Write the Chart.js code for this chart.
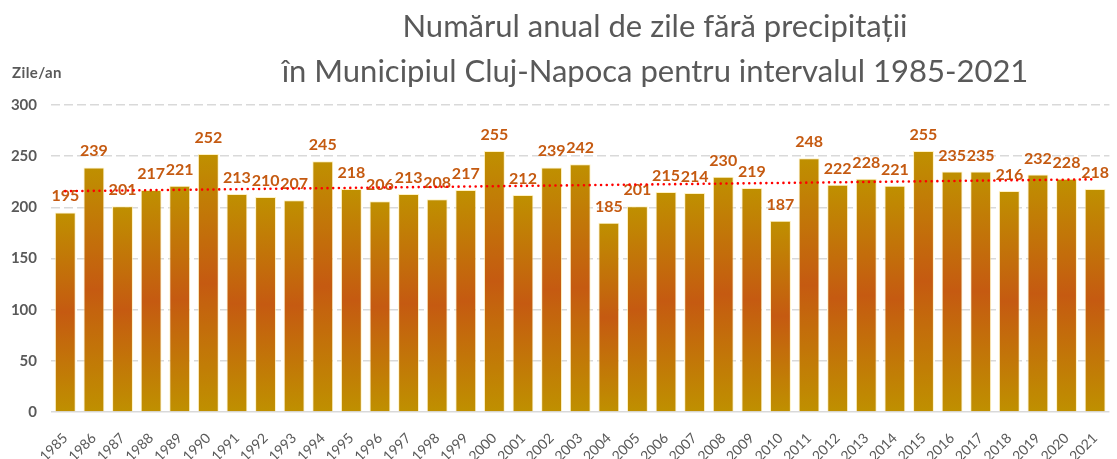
<!DOCTYPE html>
<html>
<head>
<meta charset="utf-8">
<script src="https://cdn.jsdelivr.net/npm/chart.js@4"></script>
<style>
  body { margin: 0; background: #fff; }
  .wrap { position: relative; width: 1117px; height: 459px; font-family: Lato, "Open Sans", sans-serif; }
  .title { position: absolute; left: 0; width: 1310px; text-align: center; color: #595959; font-size: 31px; line-height: 1; white-space: nowrap; }
  .unit { position: absolute; left: 12px; top: 63px; color: #595959; font-size: 15px; font-weight: bold; letter-spacing: 0.4px; }
  canvas { position: absolute; left: 0; top: 0; }
</style>
</head>
<body>
<div class="wrap">
  <canvas id="chart" width="1117" height="459"></canvas>
  <div class="title" style="top:10px">Numărul anual de zile fără precipitații</div>
  <div class="title" style="top:55px">în Municipiul Cluj-Napoca pentru intervalul 1985-2021</div>
  <div class="unit">Zile/an</div>
</div>
<script>
const years = ["1985", "1986", "1987", "1988", "1989", "1990", "1991", "1992", "1993", "1994",
  "1995", "1996", "1997", "1998", "1999", "2000", "2001", "2002", "2003", "2004",
  "2005", "2006", "2007", "2008", "2009", "2010", "2011", "2012", "2013", "2014",
  "2015", "2016", "2017", "2018", "2019", "2020", "2021"];
const dryDays = [195, 239, 201, 217, 221, 252, 213, 210, 207, 245,
  218, 206, 213, 208, 217, 255, 212, 239, 242, 185,
  201, 215, 214, 230, 219, 187, 248, 222, 228, 221,
  255, 235, 235, 216, 232, 228, 218];
const yTicks = [0, 50, 100, 150, 200, 250, 300];

// linear trend (least squares) over the yearly values
const n = dryDays.length;
const meanX = (n - 1) / 2;
const meanY = dryDays.reduce((a, b) => a + b, 0) / n;
let sxy = 0, sxx = 0;
dryDays.forEach((v, i) => { sxy += (i - meanX) * (v - meanY); sxx += (i - meanX) * (i - meanX); });
const slope = sxy / sxx;
const trend = dryDays.map((v, i) => meanY + slope * (i - meanX));

const GOLD = "#BF9000";
const ORANGE = "#C55A11";
const FONT = "Lato, 'Open Sans', sans-serif";

function barGradient(context) {
  const chart = context.chart;
  if (!chart.chartArea || context.parsed === undefined) return GOLD;
  const yScale = chart.scales.y;
  const top = yScale.getPixelForValue(context.parsed.y);
  const bottom = yScale.getPixelForValue(0);
  const g = chart.ctx.createLinearGradient(0, top, 0, bottom);
  g.addColorStop(0, GOLD);
  g.addColorStop(0.5, ORANGE);
  g.addColorStop(1, GOLD);
  return g;
}

// value labels above the bars, drawn before the trend line
const barLabels = {
  id: "barLabels",
  afterDatasetDraw(chart, args) {
    if (args.index !== 0) return;
    const ctx = chart.ctx;
    ctx.save();
    ctx.font = "bold 16px " + FONT;
    ctx.fillStyle = ORANGE;
    ctx.textAlign = "center";
    ctx.textBaseline = "alphabetic";
    args.meta.data.forEach((bar, i) => {
      ctx.fillText(String(dryDays[i]), bar.x, bar.y - 11);
    });
    ctx.restore();
  }
};

new Chart(document.getElementById("chart"), {
  data: {
    labels: years,
    datasets: [
      {
        type: "bar",
        data: dryDays,
        backgroundColor: barGradient,
        borderColor: "rgba(255, 236, 170, 0.7)",
        borderWidth: 1,
        barPercentage: 0.73,
        categoryPercentage: 1,
        order: 2
      },
      {
        type: "line",
        data: trend,
        borderColor: "#FF0000",
        borderWidth: 2.6,
        borderDash: [0, 5.7],
        borderCapStyle: "round",
        pointRadius: 0,
        fill: false,
        order: 1
      }
    ]
  },
  options: {
    responsive: false,
    animation: false,
    layout: { padding: { top: 105, left: 0, right: 0, bottom: 0 } },
    plugins: {
      legend: { display: false },
      tooltip: { enabled: false },
      title: { display: false }
    },
    scales: {
      x: {
        grid: { display: false },
        border: { display: false },
        ticks: {
          color: "#595959",
          font: { family: FONT, size: 14 },
          minRotation: 45,
          maxRotation: 45,
          padding: 10
        },
        afterFit(scale) { scale.height = 47; }
      },
      y: {
        min: 0,
        max: 300,
        afterBuildTicks(scale) { scale.ticks = yTicks.map(v => ({ value: v })); },
        grid: {
          color: "#D9D9D9",
          lineWidth: 1.5,
          drawTicks: false
        },
        border: {
          display: false,
          dash: ctx => (ctx.tick && ctx.tick.value === 0 ? [] : [9, 4])
        },
        ticks: {
          color: "#595959",
          font: { family: FONT, size: 15, weight: "bold" },
          padding: 14
        },
        afterFit(scale) { scale.width = 51; }
      }
    }
  },
  plugins: [barLabels]
});
</script>
</body>
</html>
